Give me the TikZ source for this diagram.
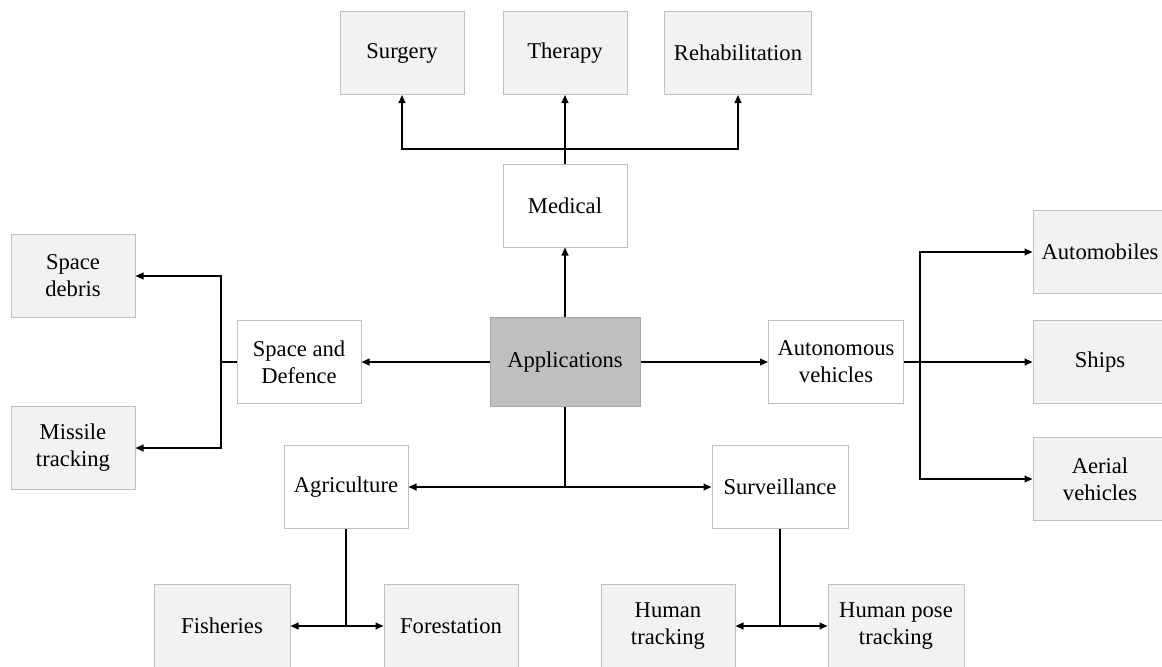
\documentclass[tikz,border=0pt]{standalone}
\usepackage{fontspec}
\setmainfont{Liberation Serif}
\usetikzlibrary{arrows.meta}
\definecolor{boxgray}{HTML}{C0C0C0}
\definecolor{leafgray}{HTML}{F2F2F2}
\definecolor{rootgray}{HTML}{BFBFBF}
\definecolor{rootline}{HTML}{A5A5A5}
\begin{document}
\begin{tikzpicture}[x=0.5pt,y=-0.5pt,
  font=\fontsize{11.3}{13.5}\selectfont,
  every node/.style={align=center,inner sep=0pt,line width=0.5pt},
  mainbox/.style={draw=boxgray,fill=white,minimum width=62pt,minimum height=41.5pt},
  leafbox/.style={mainbox,fill=leafgray},
  rootbox/.style={mainbox,draw=rootline,fill=rootgray,minimum width=75pt,minimum height=44.5pt},
  wire/.style={line width=0.75pt},
  link/.style={wire,-{Triangle[length=4pt,width=3.4pt]}}]
  \useasboundingbox (0,0) rectangle (1162,666);

  \node[rootbox] (app) at (565,362) {Applications};
  \node[mainbox] (medical) at (565,205.5) {Medical};
  \node[mainbox] (space) at (299,362) {Space and\\Defence};
  \node[mainbox,minimum width=67.5pt] (auto) at (836,362) {Autonomous\\vehicles};
  \node[mainbox] (agri) at (346,487) {Agriculture};
  \node[mainbox,minimum width=68pt] (surv) at (780,487) {Surveillance};

  \node[leafbox] (surgery) at (402,53) {Surgery};
  \node[leafbox] (therapy) at (565,53) {Therapy};
  \node[leafbox,minimum width=73.5pt] (rehab) at (738,53) {Rehabilitation};
  \node[leafbox] (debris) at (73,276) {Space\\debris};
  \node[leafbox] (missile) at (73,448) {Missile\\tracking};
  \node[leafbox,minimum width=67pt] (automobiles) at (1100,252) {Automobiles};
  \node[leafbox,minimum width=67pt] (ships) at (1100,362) {Ships};
  \node[leafbox,minimum width=67pt] (aerial) at (1100,479) {Aerial\\vehicles};
  \node[leafbox,minimum width=68pt] (fish) at (222,626) {Fisheries};
  \node[leafbox,minimum width=67pt] (forest) at (451,626) {Forestation};
  \node[leafbox,minimum width=67pt] (htrack) at (668,626) {Human\\tracking};
  \node[leafbox,minimum width=68pt] (hpose) at (896,626) {Human pose\\tracking};

  \coordinate (mbus) at (565,149);
  \coordinate (sbus) at (221,362);
  \coordinate (vbus) at (920,362);
  \coordinate (abus) at (565,487);
  \coordinate (gbus) at (346,626);
  \coordinate (hbus) at (780,626);

  \draw[link] (app.north) -- (medical.south);
  \draw[link] (app.west) -- (space.east);
  \draw[link] (app.east) -- (auto.west);
  \draw[wire] (app.south) -- (abus);
  \draw[link] (abus) -- (agri.east);
  \draw[link] (abus) -- (surv.west);

  \draw[link] (medical.north) -- (therapy.south);
  \draw[link] (mbus) -| (surgery.south);
  \draw[link] (mbus) -| (rehab.south);

  \draw[wire] (space.west) -- (sbus);
  \draw[link] (sbus) |- (debris.east);
  \draw[link] (sbus) |- (missile.east);

  \draw[link] (auto.east) -- (ships.west);
  \draw[link] (vbus) |- (automobiles.west);
  \draw[link] (vbus) |- (aerial.west);

  \draw[wire] (agri.south) -- (gbus);
  \draw[link] (gbus) -- (fish.east);
  \draw[link] (gbus) -- (forest.west);

  \draw[wire] (surv.south) -- (hbus);
  \draw[link] (hbus) -- (htrack.east);
  \draw[link] (hbus) -- (hpose.west);
\end{tikzpicture}
\end{document}
